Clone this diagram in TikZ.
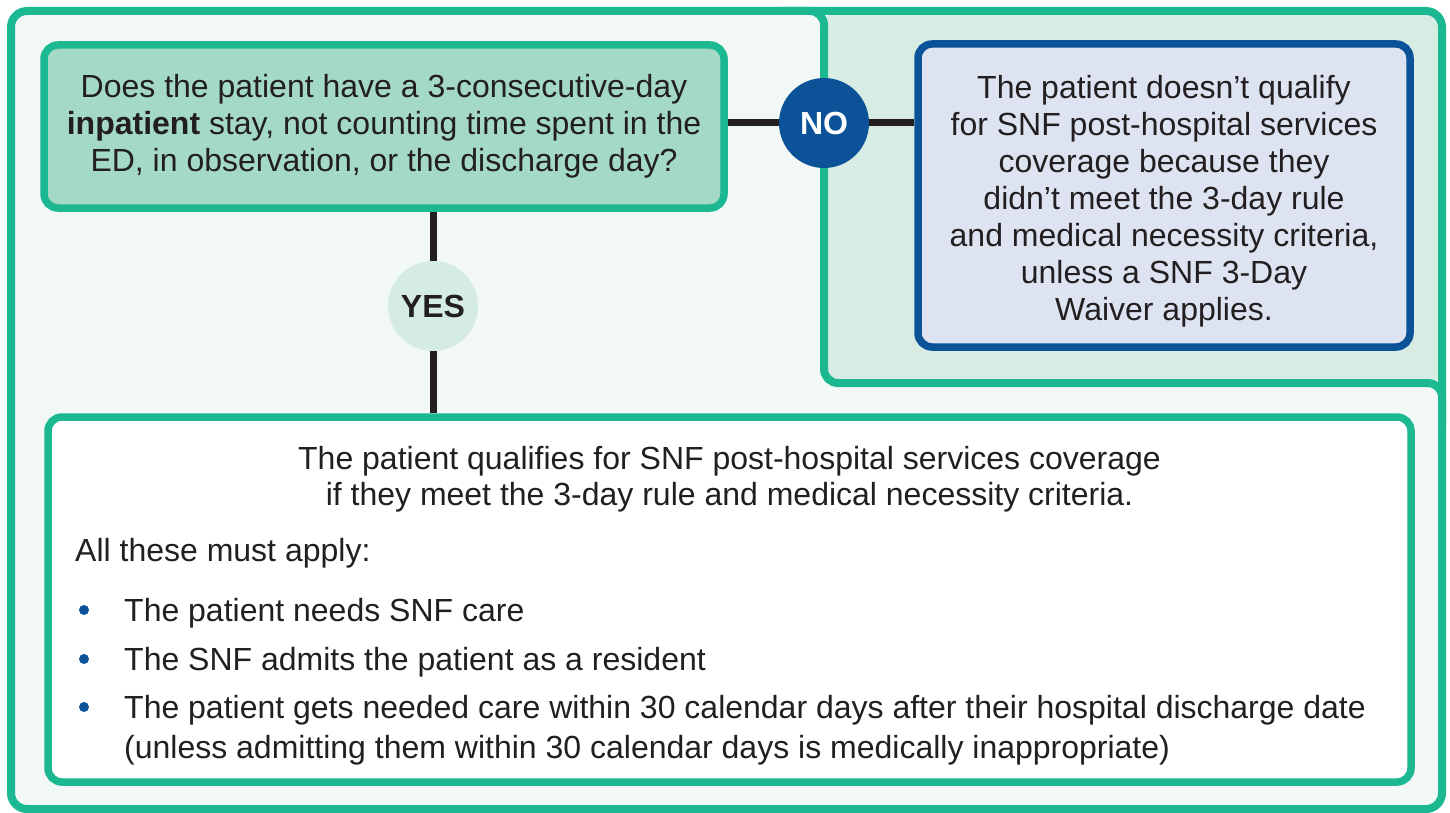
\documentclass[tikz,border=0pt]{standalone}
\usepackage{fontspec}
\setmainfont{Liberation Sans}
\definecolor{grn}{RGB}{27,184,145}
\definecolor{qfill}{HTML}{A3D9C5}
\definecolor{lightbg}{HTML}{F2F8F5}
\definecolor{darkbg}{HTML}{D7EDE4}
\definecolor{blu}{RGB}{11,82,153}
\definecolor{rfill}{HTML}{DDE3F1}
\definecolor{yesfill}{HTML}{D5ECE3}
\definecolor{txtc}{HTML}{231F20}
\begin{document}
\begin{tikzpicture}[x=1pt,y=-1pt,
  box/.style={draw, rounded corners=14pt, line width=7.5pt, inner sep=0pt},
  txt/.style={font=\fontsize{32}{37}\selectfont, text=txtc, inner sep=0pt},
  conn/.style={draw=txtc, line width=7pt},
  dot/.style={circle, fill=blu, minimum size=10pt, inner sep=0pt},
  badge/.style={circle, minimum size=90pt, inner sep=0pt, font=\bfseries\fontsize{32}{37}\selectfont}]
\useasboundingbox (0,0) rectangle (1450,813);
% background regions
\fill[lightbg, rounded corners=16pt] (11,11) rectangle (1442,809);
\fill[darkbg, rounded corners=14pt] (824,11) rectangle (1442,383);
\draw[grn, line width=8pt, rounded corners=14pt] (780,11) -- (824,11) -- (824,383) -- (1442,383) -- (1442,430);
\draw[grn, line width=8pt, rounded corners=16pt] (11,11) rectangle (1442,809);
% boxes
\node[box, draw=grn, fill=qfill, minimum width=680pt, minimum height=163pt, txt, align=center] (q) at (384,126.5)
  {Does the patient have a 3-consecutive-day\\\textbf{inpatient} stay, not counting time spent in the\\ED, in observation, or the discharge day?};
\node[badge, fill=blu, text=white] (no) at (824,123) {NO};
\node[box, draw=blu, fill=rfill, minimum width=492pt, minimum height=303pt] (r) at (1164,195.5) {};
\node[txt, align=center] (rt) at (1164,201) {The patient doesn’t qualify\\for SNF post-hospital services\\coverage because they\\didn’t meet the 3-day rule\\and medical necessity criteria,\\unless a SNF 3-Day\\Waiver applies.};
\node[badge, fill=yesfill, text=txtc] (yes) at (433,306) {YES};
\node[box, draw=grn, fill=white, minimum width=1363pt, minimum height=365pt] (b) at (729.5,599.5) {};
% bottom box texts
\node[txt, align=center, font=\fontsize{32}{36}\selectfont] (h) at (729.5,479) {The patient qualifies for SNF post-hospital services coverage\\if they meet the 3-day rule and medical necessity criteria.};
\node[txt, anchor=base west] (all) at (75,561) {All these must apply:};
\node[dot] (d1) at (84,610) {};
\node[txt, anchor=base west] (t1) at (124,621) {The patient needs SNF care};
\node[dot] (d2) at (84,659) {};
\node[txt, anchor=base west] (t2) at (124,670) {The SNF admits the patient as a resident};
\node[dot] (d3) at (84,707) {};
\node[txt, anchor=base west] (t3) at (124,718) {The patient gets needed care within 30 calendar days after their hospital discharge date};
\node[txt, anchor=base west] (t3b) at (124,758) {(unless admitting them within 30 calendar days is medically inappropriate)};
% connectors
\draw[conn] (q.east |- no.west) -- (no.west);
\draw[conn] (no.east) -- (no.east -| r.west);
\draw[conn] (yes.north) -- (yes.north |- q.south);
\draw[conn] (yes.south) -- (yes.south |- b.north);
\end{tikzpicture}
\end{document}
